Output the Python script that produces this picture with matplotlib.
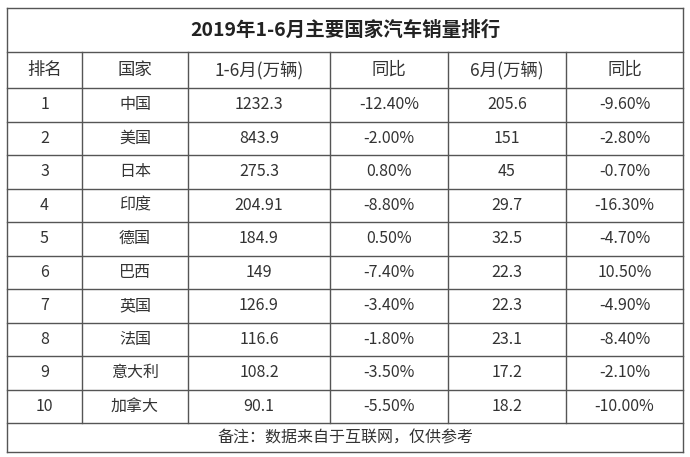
import matplotlib.pyplot as plt

plt.rcParams['font.family'] = ['Noto Sans CJK SC', 'DejaVu Sans']

title = '2019年1-6月主要国家汽车销量排行'
headers = ['排名', '国家', '1-6月(万辆)', '同比', '6月(万辆)', '同比']
ranks = ['1', '2', '3', '4', '5', '6', '7', '8', '9', '10']
countries = ['中国', '美国', '日本', '印度', '德国', '巴西', '英国', '法国', '意大利', '加拿大']
sales_h1 = ['1232.3', '843.9', '275.3', '204.91', '184.9', '149', '126.9', '116.6', '108.2', '90.1']
yoy_h1 = ['-12.40%', '-2.00%', '0.80%', '-8.80%', '0.50%', '-7.40%', '-3.40%', '-1.80%', '-3.50%', '-5.50%']
sales_jun = ['205.6', '151', '45', '29.7', '32.5', '22.3', '22.3', '23.1', '17.2', '18.2']
yoy_jun = ['-9.60%', '-2.80%', '-0.70%', '-16.30%', '-4.70%', '10.50%', '-4.90%', '-8.40%', '-2.10%', '-10.00%']
note = '备注：数据来自于互联网，仅供参考'

W, H = 690, 457
fig = plt.figure(figsize=(W / 100, H / 100), dpi=100)
ax = fig.add_axes([0, 0, 1, 1])
ax.set_xlim(0, W)
ax.set_ylim(H, 0)
ax.axis('off')

xs = [7, 82, 188, 330, 448, 566, 683]
top, title_b, head_b, bottom = 8, 52, 88, 452
row_h = 33.5
lc = '#555555'

# horizontal lines
ys = [top, title_b, head_b] + [head_b + row_h * (i + 1) for i in range(10)] + [bottom]
for y in ys:
    ax.plot([xs[0], xs[-1]], [y, y], color=lc, lw=1)
ax.plot([xs[0], xs[0]], [top, bottom], color=lc, lw=1)
ax.plot([xs[-1], xs[-1]], [top, bottom], color=lc, lw=1)
for x in xs[1:-1]:
    ax.plot([x, x], [title_b, ys[-2]], color=lc, lw=1)

ax.text((xs[0] + xs[-1]) / 2, (top + title_b) / 2, title, ha='center', va='center',
        fontsize=14, fontweight='bold', color='#222222')

centers = [(xs[i] + xs[i + 1]) / 2 for i in range(6)]
for c, h in zip(centers, headers):
    ax.text(c, (title_b + head_b) / 2, h, ha='center', va='center', fontsize=12.5, color='#333333')

cols = [ranks, countries, sales_h1, yoy_h1, sales_jun, yoy_jun]
for i in range(10):
    yc = head_b + row_h * (i + 0.5)
    for c, col in zip(centers, cols):
        ax.text(c, yc, col[i], ha='center', va='center', fontsize=11.5, color='#333333')

ax.text((xs[0] + xs[-1]) / 2, (ys[-2] + bottom) / 2, note, ha='center', va='center',
        fontsize=11.5, color='#333333')

fig.savefig('out.png', dpi=100, facecolor='white')
